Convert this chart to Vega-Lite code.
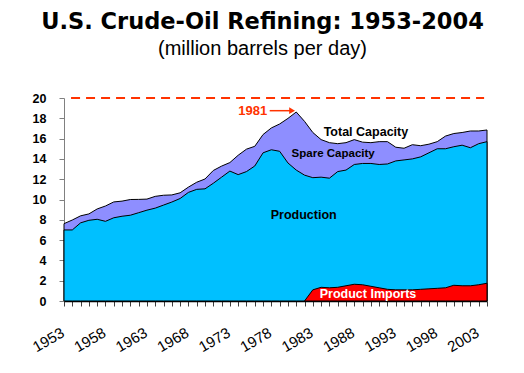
{
  "$schema": "https://vega.github.io/schema/vega-lite/v6.json",
  "width": 423,
  "height": 203,
  "autosize": {"type": "none"},
  "padding": {"left": 64, "top": 98, "right": 37, "bottom": 72},
  "background": "white",
  "config": {"view": {"stroke": null}, "axis": {"labelOverlap": false, "ticks": true, "tickWidth": 1}},
  "title": {
    "text": "U.S. Crude-Oil Refining: 1953-2004",
    "subtitle": "(million barrels per day)",
    "anchor": "middle",
    "frame": "group",
    "dx": -13,
    "offset": 33,
    "font": "DejaVu Sans",
    "fontSize": 22.5,
    "fontWeight": "bold",
    "color": "black",
    "subtitleFont": "Liberation Sans",
    "subtitleFontSize": 20,
    "subtitleColor": "black",
    "subtitlePadding": 6
  },
  "datasets": {
    "refining": [
      {"year": 1953, "capacity": 7.62, "production": 7.0, "imports": null},
      {"year": 1954, "capacity": 7.98, "production": 7.0, "imports": null},
      {"year": 1955, "capacity": 8.39, "production": 7.7, "imports": null},
      {"year": 1956, "capacity": 8.58, "production": 7.95, "imports": null},
      {"year": 1957, "capacity": 9.07, "production": 8.05, "imports": null},
      {"year": 1958, "capacity": 9.36, "production": 7.85, "imports": null},
      {"year": 1959, "capacity": 9.76, "production": 8.2, "imports": null},
      {"year": 1960, "capacity": 9.84, "production": 8.35, "imports": null},
      {"year": 1961, "capacity": 10.0, "production": 8.45, "imports": null},
      {"year": 1962, "capacity": 10.01, "production": 8.7, "imports": null},
      {"year": 1963, "capacity": 10.04, "production": 8.95, "imports": null},
      {"year": 1964, "capacity": 10.31, "production": 9.15, "imports": null},
      {"year": 1965, "capacity": 10.42, "production": 9.45, "imports": null},
      {"year": 1966, "capacity": 10.45, "production": 9.75, "imports": null},
      {"year": 1967, "capacity": 10.66, "production": 10.1, "imports": null},
      {"year": 1968, "capacity": 11.22, "production": 10.7, "imports": null},
      {"year": 1969, "capacity": 11.7, "production": 11.0, "imports": null},
      {"year": 1970, "capacity": 12.02, "production": 11.05, "imports": null},
      {"year": 1971, "capacity": 12.86, "production": 11.6, "imports": null},
      {"year": 1972, "capacity": 13.29, "production": 12.2, "imports": null},
      {"year": 1973, "capacity": 13.64, "production": 12.8, "imports": null},
      {"year": 1974, "capacity": 14.36, "production": 12.45, "imports": null},
      {"year": 1975, "capacity": 14.96, "production": 12.75, "imports": null},
      {"year": 1976, "capacity": 15.24, "production": 13.3, "imports": null},
      {"year": 1977, "capacity": 16.4, "production": 14.6, "imports": null},
      {"year": 1978, "capacity": 17.05, "production": 14.9, "imports": null},
      {"year": 1979, "capacity": 17.44, "production": 14.75, "imports": null},
      {"year": 1980, "capacity": 17.99, "production": 13.6, "imports": null},
      {"year": 1981, "capacity": 18.62, "production": 12.9, "imports": null},
      {"year": 1982, "capacity": 17.7, "production": 12.4, "imports": 0},
      {"year": 1983, "capacity": 16.6, "production": 12.15, "imports": 1.1},
      {"year": 1984, "capacity": 15.9, "production": 12.2, "imports": 1.35},
      {"year": 1985, "capacity": 15.6, "production": 12.1, "imports": 1.3},
      {"year": 1986, "capacity": 15.5, "production": 12.75, "imports": 1.35},
      {"year": 1987, "capacity": 15.6, "production": 12.9, "imports": 1.5},
      {"year": 1988, "capacity": 15.9, "production": 13.45, "imports": 1.65},
      {"year": 1989, "capacity": 15.65, "production": 13.55, "imports": 1.6},
      {"year": 1990, "capacity": 15.6, "production": 13.55, "imports": 1.45},
      {"year": 1991, "capacity": 15.7, "production": 13.45, "imports": 1.3},
      {"year": 1992, "capacity": 15.7, "production": 13.5, "imports": 1.15},
      {"year": 1993, "capacity": 15.15, "production": 13.8, "imports": 1.1},
      {"year": 1994, "capacity": 15.05, "production": 13.9, "imports": 1.1},
      {"year": 1995, "capacity": 15.4, "production": 14.0, "imports": 1.1},
      {"year": 1996, "capacity": 15.3, "production": 14.2, "imports": 1.15},
      {"year": 1997, "capacity": 15.45, "production": 14.6, "imports": 1.2},
      {"year": 1998, "capacity": 15.7, "production": 15.0, "imports": 1.25},
      {"year": 1999, "capacity": 16.25, "production": 15.0, "imports": 1.3},
      {"year": 2000, "capacity": 16.5, "production": 15.2, "imports": 1.55},
      {"year": 2001, "capacity": 16.6, "production": 15.35, "imports": 1.5},
      {"year": 2002, "capacity": 16.75, "production": 15.1, "imports": 1.5},
      {"year": 2003, "capacity": 16.75, "production": 15.5, "imports": 1.6},
      {"year": 2004, "capacity": 16.85, "production": 15.7, "imports": 1.75}
    ],
    "reference": [{"start": 1953.85, "end": 2003.65, "value": 20}],
    "arrow": [{"start": 1977.8, "end": 1980.5, "value": 18.75}],
    "labels": [
      {"label": "1981", "year": 1977.5, "value": 18.75},
      {"label": "Total Capacity", "year": 1989.4, "value": 16.68},
      {"label": "Spare Capacity", "year": 1985.45, "value": 14.45},
      {"label": "Production", "year": 1981.9, "value": 8.47},
      {"label": "Product Imports", "year": 1989.65, "value": 0.66}
    ]
  },
  "layer": [
    {
      "data": {"name": "refining"},
      "mark": {"type": "area", "color": "#8E8EFF", "stroke": "black", "strokeWidth": 1},
      "encoding": {
        "x": {
          "field": "year", "type": "quantitative",
          "scale": {"domain": [1953, 2004], "nice": false, "zero": false},
          "axis": {
            "title": null, "grid": false,
            "values": [1953,1954,1955,1956,1957,1958,1959,1960,1961,1962,1963,1964,1965,1966,1967,1968,1969,1970,1971,1972,1973,1974,1975,1976,1977,1978,1979,1980,1981,1982,1983,1984,1985,1986,1987,1988,1989,1990,1991,1992,1993,1994,1995,1996,1997,1998,1999,2000,2001,2002,2003,2004],
            "tickCount": 200,
            "format": "d",
            "labelExpr": "datum.value % 5 == 3 ? datum.label : ''",
            "labelAngle": -30,
            "labelFont": "Liberation Sans",
            "labelFontSize": 15,
            "labelColor": "black",
            "labelPadding": 19,
            "labelOffset": -5,
            "labelOverlap": false,
            "labelFlush": false,
            "domainColor": "black",
            "domainWidth": 1.5,
            "tickColor": "#404040",
            "tickSize": 5
          }
        },
        "y": {
          "field": "capacity", "type": "quantitative",
          "scale": {"domain": [0, 20], "nice": false},
          "axis": {
            "title": null, "grid": false,
            "values": [0, 2, 4, 6, 8, 10, 12, 14, 16, 18, 20],
            "tickCount": 50,
            "format": "d",
            "labelFont": "Liberation Sans",
            "labelFontSize": 12.5,
            "labelFontWeight": "bold",
            "labelColor": "black",
            "labelPadding": 13,
            "labelOverlap": false,
            "domainColor": "#808080",
            "tickColor": "#808080",
            "tickSize": 5
          }
        }
      }
    },
    {
      "data": {"name": "refining"},
      "mark": {"type": "area", "color": "#00C0FF", "stroke": "black", "strokeWidth": 1},
      "encoding": {
        "x": {"field": "year", "type": "quantitative"},
        "y": {"field": "production", "type": "quantitative"}
      }
    },
    {
      "data": {"name": "refining"},
      "mark": {"type": "area", "color": "#FF0000", "stroke": "black", "strokeWidth": 1},
      "encoding": {
        "x": {"field": "year", "type": "quantitative"},
        "y": {"field": "imports", "type": "quantitative"}
      }
    },
    {
      "data": {"name": "reference"},
      "mark": {"type": "rule", "color": "#FF3300", "strokeWidth": 2, "strokeDash": [9, 6]},
      "encoding": {
        "x": {"field": "start", "type": "quantitative"},
        "x2": {"field": "end"},
        "y": {"field": "value", "type": "quantitative"}
      }
    },
    {
      "data": {"name": "arrow"},
      "mark": {"type": "rule", "color": "#FF3300", "strokeWidth": 1.5},
      "encoding": {
        "x": {"field": "start", "type": "quantitative"},
        "x2": {"field": "end"},
        "y": {"field": "value", "type": "quantitative"}
      }
    },
    {
      "data": {"name": "arrow"},
      "mark": {"type": "point", "shape": "triangle-right", "filled": true, "color": "#FF3300", "size": 45, "opacity": 1},
      "encoding": {
        "x": {"field": "end", "type": "quantitative"},
        "y": {"field": "value", "type": "quantitative"}
      }
    },
    {
      "data": {"name": "labels"},
      "transform": [{"filter": "datum.label == '1981'"}],
      "mark": {"type": "text", "align": "right", "baseline": "middle", "font": "Liberation Sans", "fontSize": 13, "fontWeight": "bold", "color": "#FF3300"},
      "encoding": {
        "x": {"field": "year", "type": "quantitative"},
        "y": {"field": "value", "type": "quantitative"},
        "text": {"field": "label"}
      }
    },
    {
      "data": {"name": "labels"},
      "transform": [{"filter": "datum.label == 'Total Capacity' || datum.label == 'Production'"}],
      "mark": {"type": "text", "align": "center", "baseline": "middle", "font": "Liberation Sans", "fontSize": 12.5, "fontWeight": "bold", "color": "black"},
      "encoding": {
        "x": {"field": "year", "type": "quantitative"},
        "y": {"field": "value", "type": "quantitative"},
        "text": {"field": "label"}
      }
    },
    {
      "data": {"name": "labels"},
      "transform": [{"filter": "datum.label == 'Spare Capacity'"}],
      "mark": {"type": "text", "align": "center", "baseline": "middle", "font": "Liberation Sans", "fontSize": 11.5, "fontWeight": "bold", "color": "black"},
      "encoding": {
        "x": {"field": "year", "type": "quantitative"},
        "y": {"field": "value", "type": "quantitative"},
        "text": {"field": "label"}
      }
    },
    {
      "data": {"name": "labels"},
      "transform": [{"filter": "datum.label == 'Product Imports'"}],
      "mark": {"type": "text", "align": "center", "baseline": "middle", "font": "Liberation Sans", "fontSize": 12.5, "fontWeight": "bold", "color": "white"},
      "encoding": {
        "x": {"field": "year", "type": "quantitative"},
        "y": {"field": "value", "type": "quantitative"},
        "text": {"field": "label"}
      }
    }
  ]
}
